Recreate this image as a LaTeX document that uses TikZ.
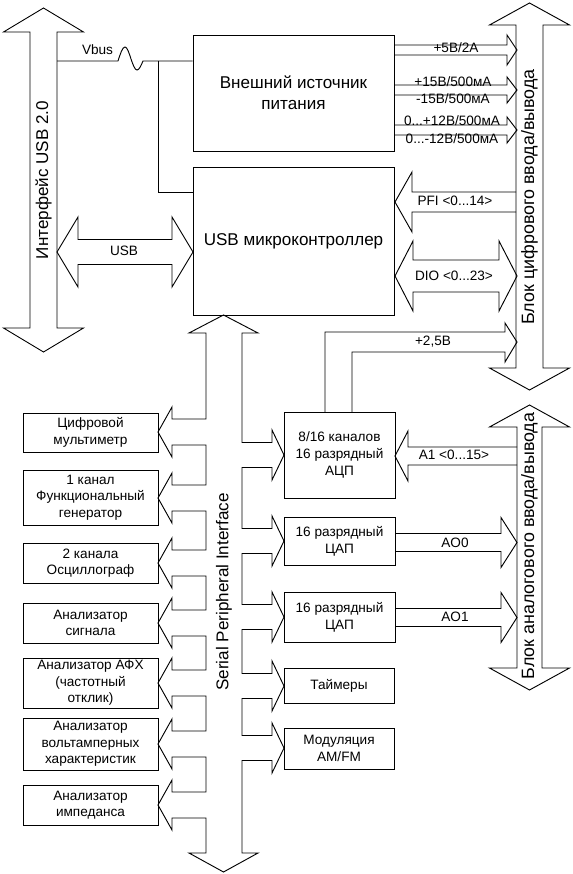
\documentclass[tikz,border=0pt]{standalone}
\usepackage{fontspec}
\setmainfont{Liberation Sans}
\usetikzlibrary{positioning}

\newcommand{\smallfnt}{\fontsize{10.2pt}{12.5pt}\selectfont}
\newcommand{\bigfnt}{\fontsize{12.8pt}{15.8pt}\selectfont}
\newcommand{\busfnt}{\fontsize{13.4pt}{16pt}\selectfont}

\tikzset{
    blk/.style={draw, line join=miter},
    box/.style={draw, align=center, inner sep=0pt, font=\smallfnt},
    lbl/.style={inner sep=0pt, font=\smallfnt},
    big/.style={font=\bigfnt, align=center},
}

\begin{document}
\begin{tikzpicture}[x=0.75pt, y=-0.75pt, line width=0.7pt]
\fill[white] (0,0) rectangle (572,874);
\useasboundingbox (0,0) rectangle (572,874);

% main blocks
\node[box, big, minimum width=201*0.75pt, minimum height=116*0.75pt] (pwr) at (293.5,93) {Внешний источник\\питания};
\node[box, big, minimum width=201*0.75pt, minimum height=148*0.75pt] (mcu) at (293.5,241) {USB микроконтроллер};
\node[box, minimum width=111*0.75pt, minimum height=86*0.75pt] (adc) at (339.5,455) {8/16 каналов\\16 разрядный\\АЦП};
\node[box, minimum width=111*0.75pt, minimum height=48*0.75pt] (dac0) at (339.5,541) {16 разрядный\\ЦАП};
\node[box, minimum width=111*0.75pt, minimum height=50*0.75pt] (dac1) at (339.5,617) {16 разрядный\\ЦАП};
\node[box, minimum width=110*0.75pt, minimum height=35*0.75pt] (tmr) at (339,685.5) {Таймеры};
\node[box, minimum width=110*0.75pt, minimum height=41*0.75pt] (mod) at (339,748.5) {Модуляция\\AM/FM};

% instruments
\node[box, minimum width=135*0.75pt, minimum height=39*0.75pt] (dmm) at (90.5,432.5) {Цифровой\\мультиметр};
\node[box, minimum width=135*0.75pt, minimum height=55*0.75pt] (gen) at (90.5,497.5) {1 канал\\Функциональный\\генератор};
\node[box, minimum width=135*0.75pt, minimum height=40*0.75pt] (osc) at (90.5,563) {2 канала\\Осциллограф};
\node[box, minimum width=135*0.75pt, minimum height=40*0.75pt] (sig) at (90.5,623) {Анализатор\\сигнала};
\node[box, minimum width=135*0.75pt, minimum height=50*0.75pt] (afc) at (90.5,683) {Анализатор АФХ\\(частотный\\отклик)};
\node[box, minimum width=135*0.75pt, minimum height=52*0.75pt] (iv) at (90.5,744) {Анализатор\\вольтамперных\\характеристик};
\node[box, minimum width=135*0.75pt, minimum height=40*0.75pt] (imp) at (90.5,805) {Анализатор\\импеданса};

% USB 2.0 and I/O blocks: x / top / bottom / half shaft / half head / head length
\foreach \x/\ya/\yb/\s/\w/\h in {43.5/8/352/13.5/40/24, 529.5/3/390/13.5/40/22, 529.5/405/690/12.5/40/22}
  \draw[blk] (\x,\ya) -- ({\x+\w},{\ya+\h}) -- ({\x+\s},{\ya+\h}) -- ({\x+\s},{\yb-\h}) -- ({\x+\w},{\yb-\h}) -- (\x,\yb)
    -- ({\x-\w},{\yb-\h}) -- ({\x-\s},{\yb-\h}) -- ({\x-\s},{\ya+\h}) -- ({\x-\w},{\ya+\h}) -- cycle;
\node[big, rotate=90] (usbif) at (43.5,180) {Интерфейс USB 2.0};
\node[big, font=\busfnt, rotate=90] (dig) at (529.5,197) {Блок цифрового ввода/вывода};
\node[big, font=\busfnt, rotate=90] (ana) at (529.5,546) {Блок аналогового ввода/вывода};

% single block arrows: tail x / tip x / y / half shaft / half head / head length
\foreach \xa/\xb/\y/\s/\w/\h in {394/517/50/5/15/10, 394/517/90/5/13/10, 394/517/130/5/13/10,
    516/395/202/10/30/-17, 517/395/456/9/25/-13, 395/517/542.5/9/25/16, 395/517/617.5/9/25/16}
  \draw[blk] (\xa,{\y-\s}) -- ({\xb-(\h)},{\y-\s}) -- ({\xb-(\h)},{\y-\w}) -- (\xb,\y)
    -- ({\xb-(\h)},{\y+\w}) -- ({\xb-(\h)},{\y+\s}) -- (\xa,{\y+\s});

% double block arrows: left tip / right tip / y / half shaft / half head / head length
\foreach \xa/\xb/\y/\s/\w/\h in {395/517/276/16/35/18, 57/193/252/12.5/35/21}
  \draw[blk] (\xa,\y) -- ({\xa+\h},{\y-\w}) -- ({\xa+\h},{\y-\s}) -- ({\xb-\h},{\y-\s}) -- ({\xb-\h},{\y-\w}) -- (\xb,\y)
    -- ({\xb-\h},{\y+\w}) -- ({\xb-\h},{\y+\s}) -- ({\xa+\h},{\y+\s}) -- ({\xa+\h},{\y+\w}) -- cycle;

% +2,5V from the ADC
\draw[blk] (325,412) |- (505,332) -- (505,323) -- (517,342) -- (505,362) -- (505,352) -| (352,412);

% line labels
\node[lbl] (p5) at (456,48) {+5В/2А};
\node[lbl] (p15) at (453,82) {+15В/500мА};
\node[lbl] (m15) at (453,99) {-15В/500мА};
\node[lbl] (p12) at (452,121) {0...+12В/500мА};
\node[lbl] (m12) at (452,139) {0...-12В/500мА};
\node[lbl] (pfi) at (455,201) {PFI <0...14>};
\node[lbl] (dio) at (454,276) {DIO <0...23>};
\node[lbl] (v25) at (433,342) {+2,5В};
\node[lbl] (ai) at (454,455) {A1 <0...15>};
\node[lbl] (ao0) at (455,543) {AO0};
\node[lbl] (ao1) at (455,617) {AO1};
\node[lbl] (usb) at (124,251) {USB};

% Vbus
\draw (57,61) -- (118,61) sin (125,47) cos (131,59) sin (137,70) cos (143,61) -- (pwr.west |- 0,61);
\draw (158,61) |- (mcu.west |- 0,192);
\node[lbl] (vbus) at (97.5,50) {Vbus};

% SPI bus
\draw[blk] (223.5,315) -- (258,333) -- (242,333)
  \foreach \c in {455,541,617,686,748} { -- (242,\c-12.5) -- (272,\c-12.5) -- (272,\c-25) -- (284,\c) -- (272,\c+25) -- (272,\c+12.5) -- (242,\c+12.5) }
  -- (242,853) -- (258,853) -- (223.5,872) -- (189,853) -- (206,853)
  \foreach \c in {805,744,683,623,563,498,432} { -- (206,\c+13) -- (172,\c+13) -- (172,\c+25) -- (158,\c) -- (172,\c-25) -- (172,\c-13) -- (206,\c-13) }
  -- (206,333) -- (189,333) -- cycle;
\node[big, rotate=90] (spi) at (224,592) {Serial Peripheral Interface};

\end{tikzpicture}
\end{document}
